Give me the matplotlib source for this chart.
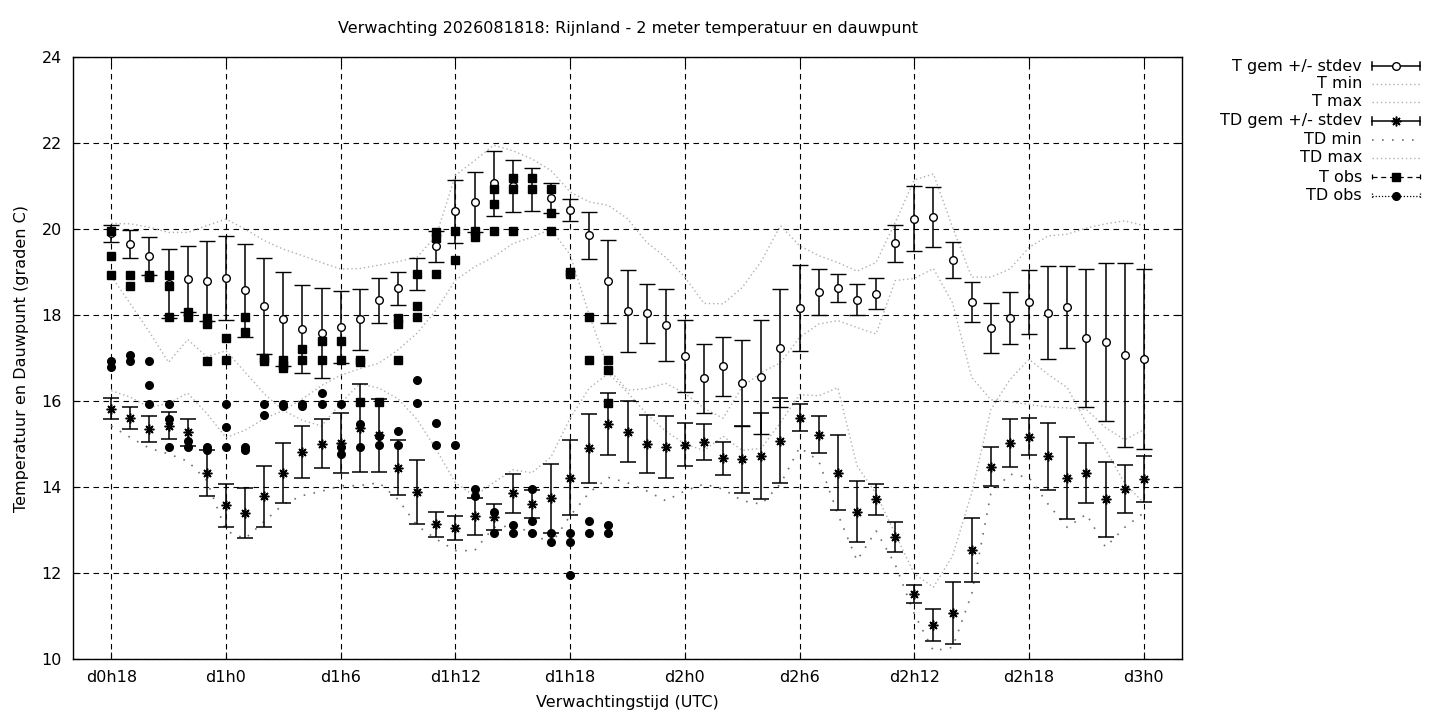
import matplotlib
matplotlib.use('Agg')
import matplotlib.pyplot as plt
from matplotlib.lines import Line2D
import numpy as np

# forecast hours after d0h18
hours = np.arange(55)

t_mean = [19.90, 19.65, 19.38, 18.73, 18.84, 18.78, 18.86, 18.57, 18.21, 17.91, 17.68, 17.58, 17.72, 17.90,
          18.34, 18.62, 18.96, 19.60, 20.41, 20.63, 21.06, 21.00, 20.92, 20.72, 20.44, 19.85, 18.78, 18.09,
          18.04, 17.77, 17.05, 16.53, 16.81, 16.42, 16.56, 17.23, 18.16, 18.53, 18.63, 18.36, 18.49, 19.67,
          20.24, 20.28, 19.28, 18.30, 17.70, 17.93, 18.30, 18.05, 18.19, 17.47, 17.37, 17.07, 16.98]
t_sd = [0.20, 0.33, 0.44, 0.80, 0.76, 0.93, 0.98, 1.08, 1.12, 1.10, 1.02, 1.04, 0.84, 0.71,
        0.52, 0.39, 0.37, 0.36, 0.74, 0.69, 0.75, 0.61, 0.50, 0.35, 0.26, 0.54, 0.97, 0.96,
        0.69, 0.83, 0.83, 0.80, 0.69, 1.01, 1.32, 1.37, 1.00, 0.53, 0.33, 0.36, 0.36, 0.43,
        0.76, 0.69, 0.42, 0.46, 0.59, 0.61, 0.75, 1.08, 0.96, 1.60, 1.83, 2.13, 2.10]
t_min = [18.90, 18.26, 17.60, 16.90, 17.43, 17.03, 17.17, 16.67, 16.17, 15.78, 16.05, 16.36, 16.60, 16.75,
         16.88, 17.19, 17.58, 18.12, 18.81, 19.12, 19.35, 19.66, 19.81, 20.00, 19.40, 18.00, 16.75, 16.25,
         16.29, 16.41, 16.18, 15.83, 15.60, 16.33, 16.66, 16.89, 17.48, 17.79, 17.87, 17.71, 17.56, 18.80,
         18.85, 19.08, 18.28, 16.55, 16.03, 15.98, 15.92, 15.86, 15.84, 15.80, 15.38, 15.10, 15.33]
t_max = [20.13, 20.12, 20.04, 19.92, 19.92, 20.08, 20.23, 20.00, 19.73, 19.53, 19.38, 19.22, 19.07, 19.08,
         19.16, 19.24, 19.35, 19.85, 21.25, 21.59, 21.95, 21.82, 21.63, 21.36, 20.86, 20.63, 20.55, 20.24,
         19.69, 19.34, 18.88, 18.27, 18.26, 18.64, 19.25, 20.08, 19.61, 19.38, 19.22, 19.02, 19.22, 20.15,
         21.14, 21.28, 20.04, 18.88, 18.88, 19.07, 19.57, 19.84, 19.88, 20.02, 20.12, 20.19, 20.08]

td_mean = [15.82, 15.61, 15.35, 15.43, 15.27, 14.33, 13.57, 13.40, 13.79, 14.33, 14.82, 15.01, 15.03, 15.37,
           15.20, 14.45, 13.88, 13.13, 13.04, 13.32, 13.30, 13.85, 13.61, 13.74, 14.22, 14.90, 15.47, 15.29,
           15.00, 14.94, 14.98, 15.05, 14.67, 14.64, 14.71, 15.08, 15.61, 15.21, 14.33, 13.43, 13.71, 12.84,
           11.51, 10.80, 11.07, 12.53, 14.47, 15.02, 15.17, 14.72, 14.21, 14.33, 13.71, 13.95, 14.19]
td_sd = [0.25, 0.25, 0.30, 0.32, 0.31, 0.53, 0.50, 0.58, 0.71, 0.70, 0.60, 0.57, 0.70, 1.03,
         0.85, 0.64, 0.75, 0.29, 0.28, 0.43, 0.31, 0.46, 0.33, 0.80, 0.88, 0.80, 0.72, 0.70,
         0.68, 0.72, 0.50, 0.42, 0.38, 0.78, 1.00, 0.99, 0.31, 0.43, 0.87, 0.71, 0.35, 0.35,
         0.20, 0.37, 0.72, 0.75, 0.45, 0.56, 0.43, 0.78, 0.96, 0.70, 0.88, 0.56, 0.54]
td_min = [15.42, 15.15, 14.90, 14.77, 14.60, 14.15, 12.98, 12.80, 13.20, 13.60, 13.80, 13.90, 14.03, 14.03,
          14.10, 13.71, 13.10, 12.79, 12.52, 12.52, 13.06, 13.10, 12.94, 12.67, 13.33, 13.87, 14.22, 14.10,
          13.91, 13.68, 13.91, 14.07, 13.95, 13.68, 13.60, 14.07, 14.92, 14.61, 13.37, 12.29, 12.98, 12.20,
          11.05, 10.19, 10.27, 11.51, 13.84, 14.30, 14.22, 13.60, 13.06, 13.37, 12.60, 13.06, 13.40]
td_max = [16.24, 16.09, 15.85, 15.95, 16.18, 15.71, 15.15, 15.32, 15.59, 15.78, 15.55, 15.42, 15.95, 16.40,
          16.30, 16.05, 15.57, 14.87, 14.10, 13.79, 14.10, 14.40, 14.33, 14.70, 15.60, 16.30, 16.64, 16.20,
          15.70, 15.30, 15.00, 14.85, 15.18, 14.85, 14.90, 15.50, 16.15, 16.12, 16.31, 14.50, 13.84, 12.91,
          11.98, 11.67, 12.40, 13.86, 15.80, 16.50, 16.97, 16.62, 16.31, 15.49, 14.87, 14.09, 13.63]

# observations (several stations per hour)
t_obs_h = [0, 0, 0, 1, 1, 2, 2, 3, 3, 3, 4, 4, 5, 5, 5, 6, 6, 7, 7, 8, 8, 9, 9, 9, 10, 10, 11, 11,
           12, 12, 13, 13, 13, 14, 15, 15, 15, 16, 16, 16, 17, 17, 17, 18, 18, 19, 19, 20, 20, 20,
           21, 21, 21, 22, 22, 23, 23, 23, 24, 24, 25, 25, 26, 26, 26]
t_obs = [19.95, 19.37, 18.93, 18.93, 18.67, 18.93, 18.88, 18.93, 18.67, 17.96, 18.08, 17.96, 17.92, 17.80,
         16.93, 17.47, 16.95, 17.96, 17.60, 16.99, 16.93, 16.95, 16.84, 16.76, 17.20, 16.95, 17.39, 16.95,
         17.39, 16.95, 16.95, 16.90, 15.97, 15.98, 17.93, 17.78, 16.96, 18.95, 18.21, 17.95, 19.93, 19.80,
         18.95, 19.95, 19.29, 19.95, 19.81, 20.93, 20.59, 19.95, 21.19, 20.93, 19.95, 21.19, 20.93, 20.93,
         20.38, 19.95, 19.00, 18.95, 17.96, 16.96, 16.96, 16.71, 15.95]
td_obs_h = [0, 0, 1, 1, 2, 2, 2, 3, 3, 3, 4, 4, 5, 5, 6, 6, 6, 7, 7, 8, 8, 9, 9, 10, 10, 11, 11,
            12, 12, 12, 13, 13, 14, 14, 15, 15, 16, 16, 17, 17, 18, 19, 19, 20, 20, 21, 21, 22, 22, 22,
            23, 23, 24, 24, 24, 25, 25, 26, 26]
td_obs = [16.93, 16.78, 17.08, 16.93, 16.93, 16.38, 15.93, 15.93, 15.58, 14.94, 15.08, 14.94, 14.94, 14.86,
          15.93, 15.39, 14.94, 14.94, 14.86, 15.93, 15.68, 15.93, 15.88, 15.93, 15.88, 16.18, 15.93,
          15.93, 14.94, 14.77, 15.47, 14.94, 15.18, 14.97, 15.31, 14.97, 16.49, 15.95, 15.48, 14.97, 14.97,
          13.95, 13.79, 13.41, 12.94, 13.11, 12.94, 13.95, 13.21, 12.94, 12.94, 12.71, 12.94, 12.71, 11.95,
          13.21, 12.94, 13.11, 12.94]

tick_hours = [0, 6, 12, 18, 24, 30, 36, 42, 48, 54]
tick_labels = ['d0h18', 'd1h0', 'd1h6', 'd1h12', 'd1h18', 'd2h0', 'd2h6', 'd2h12', 'd2h18', 'd3h0']

light = '#b0b0b0'
dark = '#707070'
star = (8, 2, 0)
fs = 11.5

W, H = 1440, 720
fig = plt.figure(figsize=(14.4, 7.2), dpi=100)
ax = fig.add_axes([73 / W, 1 - 659 / H, (1182 - 73) / W, (659 - 57) / H])

# T gem +/- stdev
ax.errorbar(hours, t_mean, yerr=t_sd, fmt='o', ms=5.5, mfc='white', mec='black', mew=1,
            ecolor='black', elinewidth=1.1, capsize=5.5, capthick=1.1, zorder=4)
ax.plot(hours, t_min, color=light, lw=1, ls=(0, (1, 2)), zorder=3)
ax.plot(hours, t_max, color=light, lw=1, ls=(0, (1, 2)), zorder=3)
# TD gem +/- stdev
ax.errorbar(hours, td_mean, yerr=td_sd, fmt='none', ecolor='black', elinewidth=1.1,
            capsize=5.5, capthick=1.1, zorder=4)
ax.plot(hours, td_mean, ls='none', marker=star, ms=7, mec='black', mew=1.1, zorder=5)
ax.plot(hours, td_min, color=dark, lw=1.2, ls=(0, (1, 5)), zorder=3)
ax.plot(hours, td_max, color=light, lw=1, ls=(0, (1, 2)), zorder=3)
# observations
ax.plot(t_obs_h, t_obs, ls='none', marker='s', ms=5.5, color='black', zorder=6)
ax.plot(td_obs_h, td_obs, ls='none', marker='o', ms=5.5, color='black', zorder=6)

ax.set_xlim(-2, 56)
ax.set_ylim(10, 24)
ax.set_xticks(tick_hours, labels=tick_labels)
ax.set_yticks(np.arange(10, 25, 2))
ax.grid(True, color='black', lw=0.8, ls=(0, (5, 4)))
ax.tick_params(direction='in', length=5, top=True, right=True, labelsize=fs, pad=8)
for s in ax.spines.values():
    s.set_linewidth(1)
ax.set_xlabel('Verwachtingstijd (UTC)', fontsize=fs, labelpad=7)
ax.set_ylabel('Temperatuur en Dauwpunt (graden C)', fontsize=fs, labelpad=9)
fig.text(628 / W, 1 - 29 / H, 'Verwachting 2026081818: Rijnland - 2 meter temperatuur en dauwpunt',
         ha='center', va='center', fontsize=fs)

# legend, drawn like gnuplot's key
def fx(x):
    return x / W

def fy(y):
    return 1 - y / H

rows = [66, 84, 102, 121, 140, 158, 177, 196]
labels = ['T gem +/- stdev', 'T min', 'T max', 'TD gem +/- stdev', 'TD min', 'TD max', 'T obs', 'TD obs']
x0, x1 = 1372, 1420
for i, (yy, lab) in enumerate(zip(rows, labels)):
    fig.text(fx(1362), fy(yy), lab, ha='right', va='center', fontsize=fs)
    if lab in ('T gem +/- stdev', 'TD gem +/- stdev'):
        fig.add_artist(Line2D([fx(x0), fx(x1)], [fy(yy), fy(yy)], color='black', lw=1.1))
        for xe in (x0, x1):
            fig.add_artist(Line2D([fx(xe), fx(xe)], [fy(yy - 4), fy(yy + 4)], color='black', lw=1.1))
        if lab.startswith('T '):
            fig.add_artist(Line2D([fx(1396)], [fy(yy)], marker='o', ms=5.5, mfc='white', mec='black'))
        else:
            fig.add_artist(Line2D([fx(1396)], [fy(yy)], marker=star, ms=7, mec='black', mew=1.1))
    elif lab in ('T min', 'T max', 'TD max'):
        fig.add_artist(Line2D([fx(x0), fx(x1)], [fy(yy), fy(yy)], color=light, lw=1, ls=(0, (1, 2))))
    elif lab == 'TD min':
        fig.add_artist(Line2D([fx(x0), fx(x1)], [fy(yy), fy(yy)], color=dark, lw=1.2, ls=(0, (1, 5))))
    else:
        ls = (0, (4, 3)) if lab == 'T obs' else (0, (1, 1.5))
        mk = 's' if lab == 'T obs' else 'o'
        fig.add_artist(Line2D([fx(x0), fx(x1)], [fy(yy), fy(yy)], color='black', lw=0.9, ls=ls))
        for xe in (x0, x1):
            fig.add_artist(Line2D([fx(xe), fx(xe)], [fy(yy - 3), fy(yy + 3)], color='black', lw=0.9, ls=ls))
        fig.add_artist(Line2D([fx(1396)], [fy(yy)], marker=mk, ms=5.5, color='black'))

fig.savefig('out.png', dpi=100)
